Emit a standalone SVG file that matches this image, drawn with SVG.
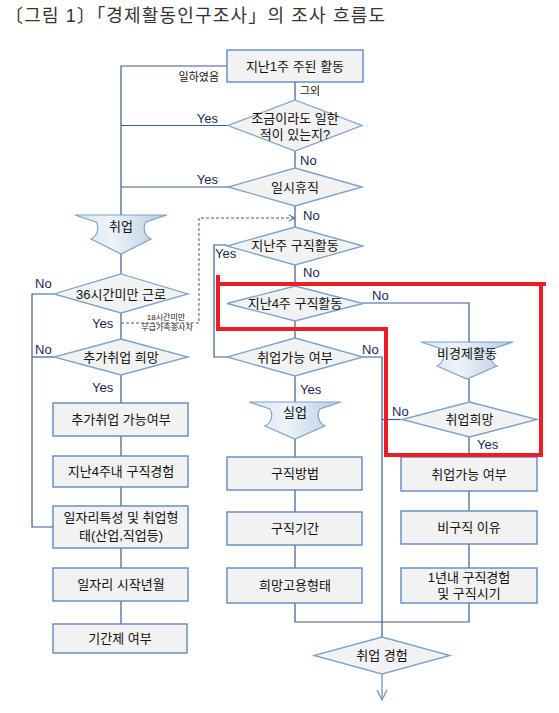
<svg xmlns="http://www.w3.org/2000/svg" width="559" height="713" viewBox="0 0 559 713">
<style>
text{font-family:"Liberation Sans","Noto Sans CJK KR",sans-serif;}
.t{font-size:13px;fill:#111;text-anchor:middle;}
.lb{font-size:13px;fill:#1c2456;}
.sm{font-size:11px;fill:#111;}
.box{fill:#f2f2f2;stroke:#4f81bd;stroke-width:1.3;}
.dia{fill:#f2f2f2;stroke:#7ba3cc;stroke-width:1.3;}
.fun{fill:url(#g);stroke:#7ba3cc;stroke-width:1.2;}
.c{fill:none;stroke:#3a5f8f;stroke-width:1.2;}
.d{fill:none;stroke:#3a5f8f;stroke-width:1;stroke-dasharray:3,2;}
</style>
<defs>
<linearGradient id="g" x1="0" y1="0" x2="1" y2="0">
<stop offset="0" stop-color="#d9e3ef"/>
<stop offset="0.4" stop-color="#eef3f9"/>
<stop offset="1" stop-color="#b4c9e2"/>
</linearGradient>
<marker id="ar" viewBox="0 0 10 10" refX="9" refY="5" markerWidth="8" markerHeight="8" markerUnits="userSpaceOnUse" orient="auto">
<path d="M1,1 L9,5 L1,9" fill="none" stroke="#3a5f8f" stroke-width="1.2"/>
</marker>
<marker id="ar2" viewBox="0 0 12 12" refX="11" refY="6" markerWidth="12" markerHeight="12" markerUnits="userSpaceOnUse" orient="auto">
<path d="M1,1 L11,6 L1,11" fill="none" stroke="#6e9ac9" stroke-width="1.3"/>
</marker>
</defs>
<rect width="559" height="713" fill="#fff"/>
<text x="5" y="22" font-size="18" fill="#333" textLength="380">〔그림 1〕「경제활동인구조사」의 조사 흐름도</text>

<g id="connectors">
<path class="c" d="M227,66 H121 V215"/>
<path class="c" d="M295,82 V100"/>
<path class="c" d="M228,125.5 H121"/>
<path class="c" d="M295,151 V168"/>
<path class="c" d="M228,187 H121"/>
<path class="c" d="M295,206 V227"/>
<path class="c" d="M227,245 H214 V357 H227"/>
<path class="c" d="M295,265 V286"/>
<path class="c" d="M363,303 H469 V342"/>
<path class="c" d="M295,321 V338"/>
<path class="c" d="M363,357 H382 V637"/>
<path class="c" d="M402,419.5 H382"/>
<path class="c" d="M469,379 V402"/>
<path class="c" d="M469,437 V457"/>
<path class="c" d="M469,491 V511"/>
<path class="c" d="M469,544 V568"/>
<path class="c" d="M469,603 V622 H295 V603"/>
<path class="c" d="M295,376 V402"/>
<path class="c" d="M295,439 V457"/>
<path class="c" d="M295,490 V512"/>
<path class="c" d="M295,545 V568"/>
<path d="M382,674 V700" fill="none" stroke="#6e9ac9" stroke-width="1.3" marker-end="url(#ar2)"/>
<path class="c" d="M121,254 V274"/>
<path class="c" d="M54,294 H32 V527 H53"/>
<path class="c" d="M121,313 V339"/>
<path class="c" d="M54,357 H32"/>
<path class="c" d="M121,375 V403"/>
<path class="c" d="M121,436 V456"/>
<path class="c" d="M121,487 V506"/>
<path class="c" d="M121,548 V568"/>
<path class="c" d="M121,601 V624"/>
<path class="d" d="M121,323 H199 V218 H295" marker-end="url(#ar)"/>
</g>

<g id="n-main"><rect class="box" x="227" y="50" width="136" height="32"/><text class="t" x="295" y="71">지난1주 주된 활동</text></g>
<g id="n-worked"><polygon class="dia" points="295,100 362,125.5 295,151 228,125.5"/><text class="t" x="295" y="123">조금이라도 일한</text><text class="t" x="295" y="139">적이 있는지?</text></g>
<g id="n-temp"><polygon class="dia" points="295,168 362,187 295,206 228,187"/><text class="t" x="295" y="192">일시휴직</text></g>
<g id="n-lastweek"><polygon class="dia" points="295,227 363,246 295,265 227,246"/><text class="t" x="295" y="250">지난주 구직활동</text></g>
<g id="n-4weeks"><polygon class="dia" points="295,286 363,303.5 295,321 227,303.5"/><text class="t" x="295" y="308">지난4주 구직활동</text></g>
<g id="n-avail"><polygon class="dia" points="295,338 363,357 295,376 227,357"/><text class="t" x="295" y="362">취업가능 여부</text></g>
<g id="n-unemp"><path class="fun" d="M249,402 H341 L320,409 A12,12 0 0 0 325,426 L295,439 L265,426 A12,12 0 0 0 270,409 Z"/><text class="t" x="295" y="417">실업</text></g>
<g id="n-method"><rect class="box" x="227" y="457" width="135" height="33"/><text class="t" x="295" y="478">구직방법</text></g>
<g id="n-period"><rect class="box" x="227" y="512" width="135" height="33"/><text class="t" x="295" y="533">구직기간</text></g>
<g id="n-type"><rect class="box" x="227" y="568" width="135" height="35"/><text class="t" x="295" y="590">희망고용형태</text></g>
<g id="n-exp"><polygon class="dia" points="382,637 450,655.5 382,674 314,655.5"/><text class="t" x="382" y="660">취업 경험</text></g>

<g id="n-noneco"><path class="fun" d="M421,342 H513 L492,349 A12,12 0 0 0 497,366 L467,379 L437,366 A12,12 0 0 0 442,349 Z"/><text class="t" x="467" y="358">비경제활동</text></g>
<g id="n-hope"><polygon class="dia" points="469.5,402 537,419.5 469.5,437 402,419.5"/><text class="t" x="469.5" y="424">취업희망</text></g>
<g id="n-avail2"><rect class="box" x="401" y="457" width="136" height="34"/><text class="t" x="469" y="479">취업가능 여부</text></g>
<g id="n-reason"><rect class="box" x="401" y="511" width="136" height="33"/><text class="t" x="469" y="532">비구직 이유</text></g>
<g id="n-year"><rect class="box" x="401" y="568" width="136" height="35"/><text class="t" x="469" y="582">1년내 구직경험</text><text class="t" x="469" y="598">및 구직시기</text></g>

<g id="n-emp"><path class="fun" d="M75,215 H167 L146,222 A12,12 0 0 0 151,239 L121,254 L91,239 A12,12 0 0 0 96,222 Z"/><text class="t" x="121" y="231">취업</text></g>
<g id="n-36"><polygon class="dia" points="121,274 188,294 121,313 54,294"/><text class="t" x="121" y="299">36시간미만 근로</text></g>
<g id="n-addhope"><polygon class="dia" points="121,339 188,357 121,375 54,357"/><text class="t" x="121" y="362">추가취업 희망</text></g>
<g id="n-addavail"><rect class="box" x="53" y="403" width="135" height="33"/><text class="t" x="121" y="424">추가취업 가능여부</text></g>
<g id="n-4wexp"><rect class="box" x="53" y="456" width="135" height="31"/><text class="t" x="121" y="476">지난4주내 구직경험</text></g>
<g id="n-job"><rect class="box" x="53" y="506" width="135" height="42"/><text class="t" x="121" y="522">일자리특성 및 취업형</text><text class="t" x="121" y="540">태(산업,직업등)</text></g>
<g id="n-start"><rect class="box" x="53" y="568" width="135" height="33"/><text class="t" x="121" y="589">일자리 시작년월</text></g>
<g id="n-fixed"><rect class="box" x="53" y="624" width="134" height="29"/><text class="t" x="120" y="643">기간제 여부</text></g>

<g id="labels">
<text class="sm" x="219" y="81" text-anchor="end">일하였음</text>
<text class="sm" x="300" y="95">그외</text>
<text class="lb" x="218" y="123" text-anchor="end">Yes</text>
<text class="lb" x="300" y="165">No</text>
<text class="lb" x="218" y="184" text-anchor="end">Yes</text>
<text class="lb" x="303" y="220">No</text>
<text class="lb" x="215" y="258">Yes</text>
<text class="lb" x="303" y="277">No</text>
<text class="lb" x="372" y="300">No</text>
<text class="lb" x="362" y="354">No</text>
<text class="lb" x="300" y="394">Yes</text>
<text class="lb" x="392" y="416">No</text>
<text class="lb" x="477" y="449">Yes</text>
<text class="lb" x="35" y="288">No</text>
<text class="lb" x="92" y="328">Yes</text>
<text class="lb" x="35" y="354">No</text>
<text class="lb" x="92" y="392">Yes</text>
<text x="166" y="320" font-size="8" fill="#222" text-anchor="middle">18시간미만</text>
<text x="167" y="330" font-size="8" fill="#222" text-anchor="middle">무급가족종사자</text>
</g>

<path d="M218,275 V329 H386 V455 H541 V284 M217,284 H546" fill="none" stroke="#ee1c25" stroke-width="4"/>
</svg>
